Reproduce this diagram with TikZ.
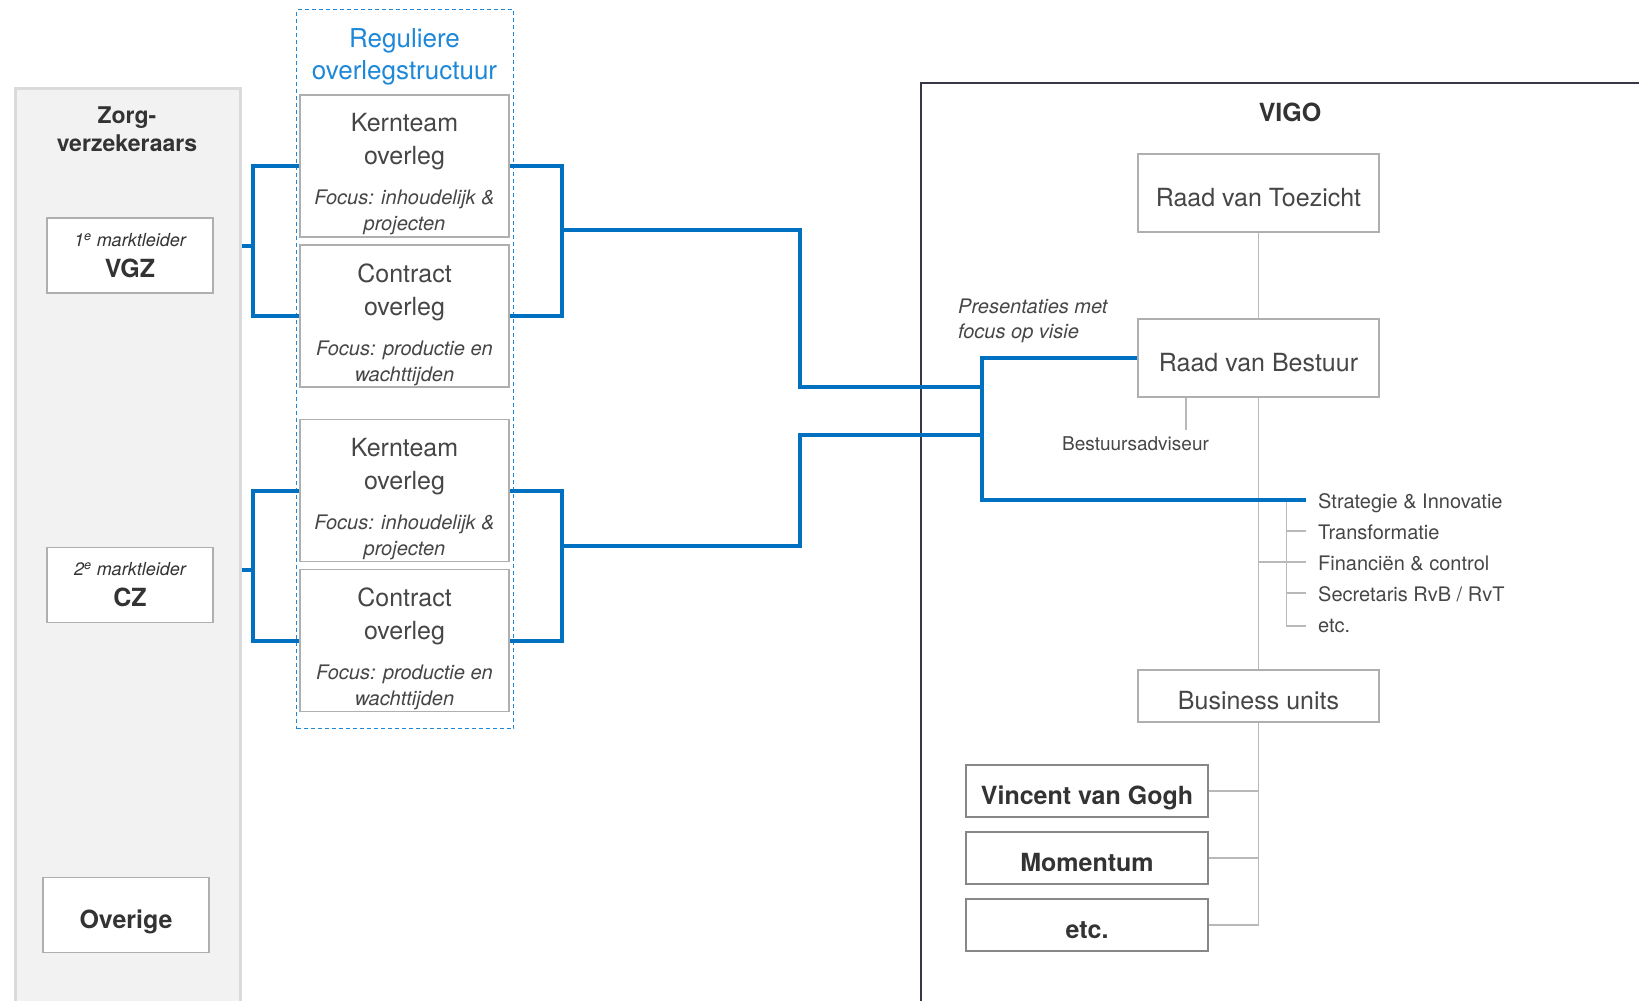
\documentclass[tikz,border=0pt]{standalone}
\usepackage{fontspec}
\setmainfont{TeX Gyre Heros}
\usetikzlibrary{positioning}

\definecolor{vigoblue}{RGB}{0,112,192}
\definecolor{regblue}{RGB}{30,136,216}
\definecolor{panelfill}{RGB}{242,242,242}
\definecolor{panelline}{RGB}{218,218,218}
\definecolor{boxline}{RGB}{175,175,175}
\definecolor{unitline}{RGB}{135,135,135}
\definecolor{linegray}{RGB}{185,185,185}
\definecolor{frameline}{RGB}{55,55,70}
\definecolor{darktext}{RGB}{51,51,51}
\definecolor{softtext}{RGB}{70,70,70}

\newcommand\sizefont[2]{\fontsize{#1}{#2}\selectfont}
\newcommand\focusfont{\sizefont{20}{26}\itshape}

\tikzstyle{zvpanel}=[draw=panelline,fill=panelfill,line width=2.5pt,inner sep=0pt]
\tikzstyle{zvbox}=[draw=boxline,fill=white,line width=1.5pt,minimum width=166pt,minimum height=75pt,inner sep=0pt,align=center,text=darktext,font=\sizefont{25}{31}\bfseries]
\tikzstyle{regbox}=[draw=regblue,dash pattern=on 4pt off 3pt,line width=1.3pt,inner sep=0pt,minimum width=217pt,minimum height=719pt]
\tikzstyle{meetbox}=[draw=boxline,fill=white,line width=1.5pt,minimum width=209pt,minimum height=142pt,inner sep=0pt]
\tikzstyle{meettext}=[align=center,inner sep=0pt,text=softtext,font=\sizefont{25}{26}]
\tikzstyle{orgbox}=[draw=boxline,fill=white,line width=1.5pt,minimum width=241pt,inner sep=0pt,text height=26pt,text depth=0pt,text=softtext,font=\sizefont{25}{30}]
\tikzstyle{unitbox}=[draw=unitline,fill=white,line width=2pt,minimum width=242pt,minimum height=52pt,inner sep=0pt,text height=26pt,text depth=0pt,text=darktext,font=\sizefont{25}{30}\bfseries]
\tikzstyle{listitem}=[anchor=west,inner xsep=12pt,inner ysep=0pt,text height=18pt,text depth=1pt,text=softtext,font=\sizefont{20}{24}]
\tikzstyle{blueline}=[draw=vigoblue,line width=4pt]
\tikzstyle{grayline}=[draw=linegray,line width=1.3pt]

\begin{document}
\begin{tikzpicture}[x=1pt,y=-1pt]
  \useasboundingbox (0,0) rectangle (1639,1001);
  % Zorgverzekeraars on the left
  \node[zvpanel,anchor=north west,minimum width=225pt,minimum height=930pt] (zorg) at (14,87) {};
  \node[align=center,text=darktext,font=\sizefont{23}{28}\bfseries] (zorgtitle) at (127,129) {Zorg-\\verzekeraars};
  \foreach \pos/\name/\la in {{(130,255.5)/vgz/{{\sizefont{18}{22}\mdseries\itshape 1\textsuperscript{e} marktleider}\\VGZ}},
                              {(130,585)/cz/{{\sizefont{18}{22}\mdseries\itshape 2\textsuperscript{e} marktleider}\\CZ}}}
        \node[zvbox] (\name) at \pos {\la};
  \node[zvbox,text height=26pt,text depth=0pt] (overige) at (126,915) {Overige};

  % Reguliere overlegstructuur
  \node[regbox,anchor=north west] (reg) at (296,9) {};
  \node[align=center,text=regblue,font=\sizefont{26}{32}] (regtitle) at (404.5,57) {Reguliere\\overlegstructuur};
  \foreach \y/\name/\kind/\fa/\fb in {166/kern1/Kernteam/inhoudelijk \&/projecten,
                                     316/contr1/Contract/productie en/wachttijden,
                                     490.5/kern2/Kernteam/inhoudelijk \&/projecten,
                                     640.5/contr2/Contract/productie en/wachttijden}
  {
        \node[meetbox] (\name) at (404.5,\y) {};
        \node[meettext] (\name-txt) at ([yshift=-8.5pt]\name.center) {\kind\\[7pt]overleg\\[14pt]{\focusfont Focus: \fa}\\{\focusfont \fb}};
  }

  % VIGO
  \draw[frameline,line width=1.2pt] (921,1010) -- (921,83) -- (1650,83);
  \node[text=darktext,font=\sizefont{25}{30}\bfseries] (vigo) at (1290,112) {VIGO};
  \node[orgbox,minimum height=78pt] (rvt) at (1258.5,193) {Raad van Toezicht};
  \node[orgbox,minimum height=78pt] (rvb) at (1258.5,358) {Raad van Bestuur};
  \node[orgbox,minimum height=52pt] (bu) at (1258.5,696) {Business units};
  \node[text=softtext,font=\sizefont{19}{24}] (adv) at (1135.5,444) {Bestuursadviseur};
  \node[anchor=west,align=left,inner sep=0pt,text=softtext,font=\sizefont{20}{25}\itshape] (pres) at (958,321) {Presentaties met\\focus op visie};
  \foreach \y/\name/\la in {500/strat/Strategie \& Innovatie, 531/trans/Transformatie, 562/fin/Financiën \& control,
                            593/secr/{Secretaris RvB / RvT}, 624/etcl/etc.}
        \node[listitem] (\name) at (1306,\y) {\la};
  \foreach \y/\name/\la in {791/vvg/Vincent van Gogh, 858/mom/Momentum, 925/etcb/etc.}
        \node[unitbox] (\name) at (1087,\y) {\la};

  % Grey org lines
  \coordinate (sub) at (1286.6,0);
  \coordinate (advtop) at (1186,430);
  \draw[grayline] (rvt.south) -- (rvb.north);
  \draw[grayline] (rvb.south) -- (bu.north);
  \draw[grayline] (rvb.south -| advtop) -- (advtop);
  \draw[grayline] (strat.west -| sub) |- ([yshift=-2pt]etcl.west);
  \foreach \name in {trans,fin,secr}
        \draw[grayline] (\name.west -| sub) -- (\name.west);
  \draw[grayline] (fin.west -| rvt.south) -- (fin.west -| sub);
  \draw[grayline] (bu.south) |- (etcb.east);
  \foreach \name in {vvg,mom}
        \draw[grayline] (\name.east) -- (\name.east -| bu.south);

  % Blue overleg lines
  \coordinate (b1l) at (252.5,246);
  \coordinate (b2l) at (252.5,570);
  \coordinate (b1r) at (562,230);
  \coordinate (b2r) at (562,546);
  \coordinate (j1) at (800,387);
  \coordinate (j2) at (800,435);
  \coordinate (hub1) at (981.5,387);
  \coordinate (hub2) at (981.5,435);
  \foreach \top/\bottom/\lft/\rgt in {kern1/contr1/b1l/b1r, kern2/contr2/b2l/b2r}
  {
        \draw[blueline] (\top.west) -| (\lft) |- (\bottom.west);
        \draw[blueline] (zorg.east |- \lft) -- (\lft);
        \draw[blueline] (\top.east) -| (\rgt) |- (\bottom.east);
  }
  \draw[blueline] (b1r) -| (j1) -- (hub1);
  \draw[blueline] (b2r) -| (j2) -- (hub2);
  \draw[blueline] (rvb.west) -| (hub1) |- (strat.west);
\end{tikzpicture}
\end{document}
